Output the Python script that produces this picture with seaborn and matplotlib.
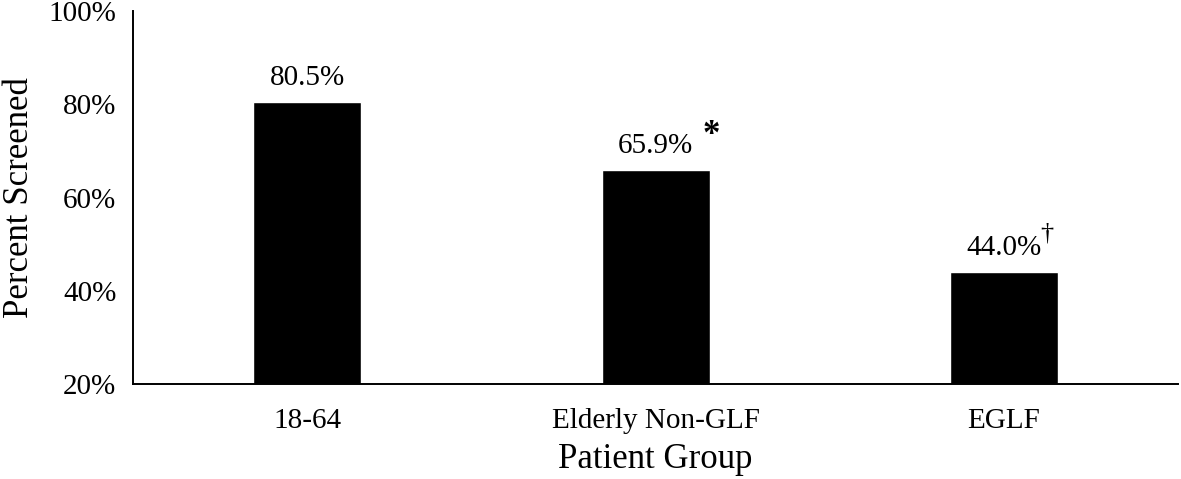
import pandas as pd
import seaborn as sns
import matplotlib.pyplot as plt
from matplotlib.ticker import FuncFormatter

groups = ["18-64", "Elderly Non-GLF", "EGLF"]
screened = [80.5, 65.9, 44.0]
marks = ["", "*", "\u2020"]

df = pd.DataFrame({"Group": groups, "Screened": screened})

sns.set_style("white")
plt.rcParams["font.family"] = ["Liberation Serif", "DejaVu Serif"]
plt.rcParams["text.color"] = "black"
plt.rcParams["xtick.color"] = "black"
plt.rcParams["ytick.color"] = "black"
plt.rcParams["axes.labelcolor"] = "black"

fig = plt.figure(figsize=(11.81, 4.79), dpi=100)
ax = fig.add_axes([0.1126, 0.198, 0.885, 0.779])

sns.barplot(data=df, x="Group", y="Screened", color="black", width=0.31,
            saturation=1, ax=ax)

ax.set_ylim(20, 100)
ax.set_yticks([20, 40, 60, 80, 100])
ax.yaxis.set_major_formatter(FuncFormatter(lambda v, p: f"{v:.0f}%"))
ax.tick_params(axis="both", labelsize=21, length=0)
ax.tick_params(axis="x", pad=17)
ax.tick_params(axis="y", pad=12)
ax.set_xlabel("Patient Group", fontsize=25, labelpad=7)
ax.set_ylabel("Percent Screened", fontsize=25, labelpad=9)

for s in ["top", "right"]:
    ax.spines[s].set_visible(False)
for s in ["left", "bottom"]:
    ax.spines[s].set_color("black")
    ax.spines[s].set_linewidth(1.4)

for i, (v, m) in enumerate(zip(screened, marks)):
    ax.annotate(f"{v:.1f}%", (i, v), xytext=(0, 8), textcoords="offset points",
                ha="center", va="bottom", fontsize=21)
    if m == "*":
        ax.annotate(m, (i, v), xytext=(40, 13), textcoords="offset points",
                    ha="center", va="bottom", fontsize=25, fontweight="bold")
    elif m:
        ax.annotate(m, (i, v), xytext=(31, 20), textcoords="offset points",
                    ha="center", va="bottom", fontsize=19)

fig.savefig("out.png", dpi=100)
